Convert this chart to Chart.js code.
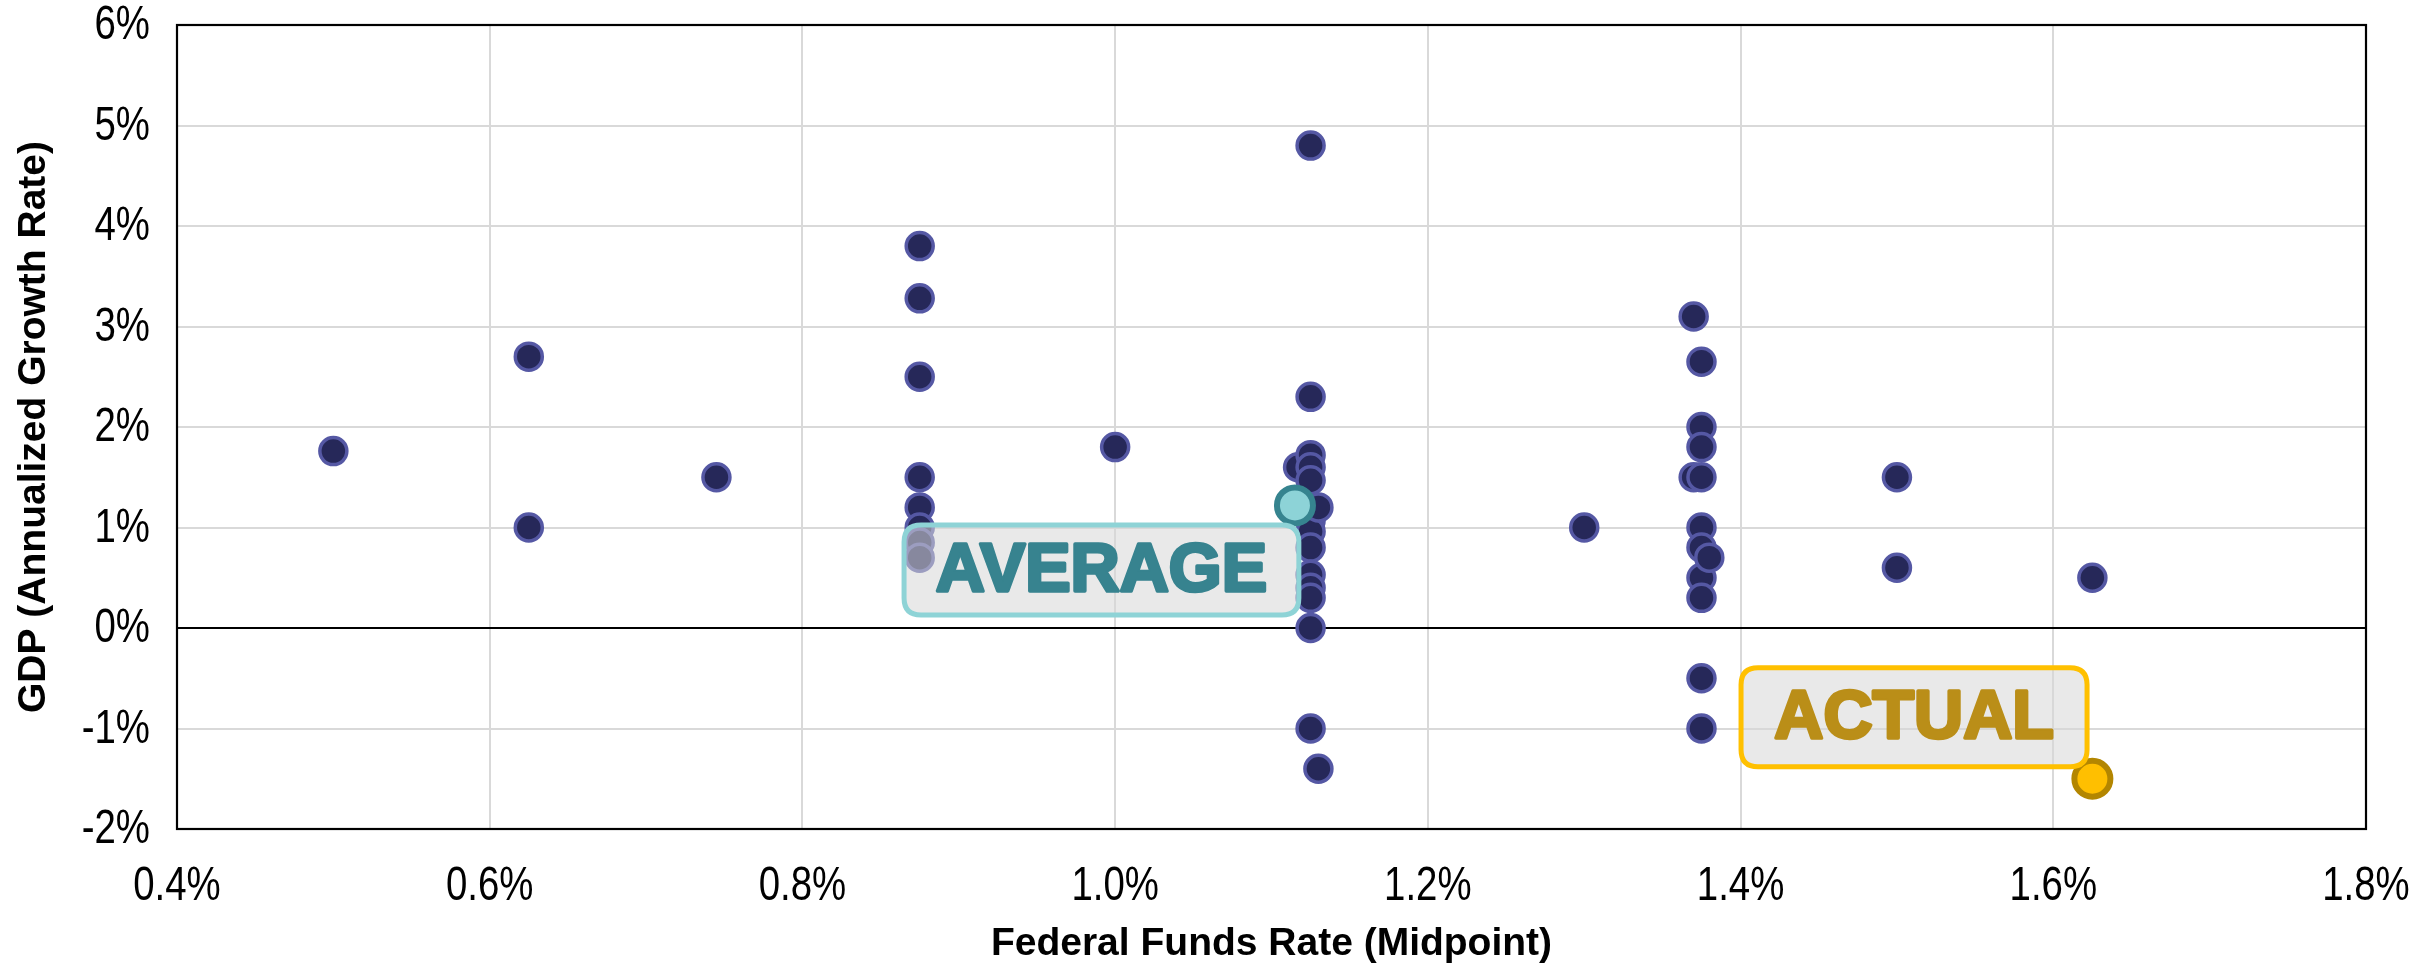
<!DOCTYPE html>
<html>
<head>
<meta charset="utf-8">
<title>GDP vs Federal Funds Rate</title>
<script src="https://cdn.jsdelivr.net/npm/chart.js@4"></script>
<style>
    body { margin: 0; background: #ffffff; }
    canvas { display: block; }
</style>
</head>
<body>
<canvas id="scatter" width="2420" height="980"></canvas>
<script>
// Data
const fedFundsRate = [
    0.5, 0.625, 0.625, 0.745,
    0.875, 0.875, 0.875, 0.875, 0.875, 0.875, 0.875, 0.875,
    1.0, 1.117,
    1.125, 1.125, 1.125, 1.125, 1.125, 1.125, 1.125, 1.125, 1.125, 1.125, 1.125, 1.125, 1.125,
    1.13, 1.13,
    1.3, 1.37, 1.37,
    1.375, 1.375, 1.375, 1.375, 1.375, 1.375, 1.375, 1.375, 1.375, 1.375,
    1.38, 1.5, 1.5, 1.625
];
const gdpGrowth = [
    1.76, 2.7, 1.0, 1.5,
    3.8, 3.28, 2.5, 1.5, 1.2, 1.0, 0.85, 0.7,
    1.8, 1.6,
    4.8, 2.3, 1.72, 1.6, 1.47, 1.07, 0.96, 0.8, 0.53, 0.4, 0.3, 0.0, -1.0,
    1.2, -1.4,
    1.0, 3.1, 1.5,
    2.65, 2.0, 1.8, 1.5, 1.0, 0.8, 0.5, 0.3, -0.5, -1.0,
    0.7, 1.5, 0.6, 0.5
];
const averagePoint = [1.115, 1.22];
const actualPoint = [1.625, -1.5];

const xTicks = [0.4, 0.6, 0.8, 1.0, 1.2, 1.4, 1.6, 1.8];
const yTicks = [-2, -1, 0, 1, 2, 3, 4, 5, 6];

const xTitle = "Federal Funds Rate (Midpoint)";
const yTitle = "GDP (Annualized Growth Rate)";

// Label boxes, in data units: [text, xFrom, xTo, yTop, yBottom]
const averageLabel = ["AVERAGE", 0.865, 1.1175, 1.025, 0.13];
const actualLabel = ["ACTUAL", 1.4003, 1.6216, -0.395, -1.38];

// Fonts
const tickFontString = "48px 'Liberation Sans', Arial, sans-serif";
const tickSqueeze = 0.8;
const titleFont = {family: "'Liberation Sans', Arial, sans-serif", size: 39, weight: "bold", lineHeight: 1.2};

// Element
let chartElement = document.querySelector("#scatter");

const observations = fedFundsRate.map((x, i) => ({x: x, y: gdpGrowth[i]}));

// Plugins
const framePlugin = {
    id: "frame",
    beforeDatasetsDraw: (chart) => {
        let {ctx, chartArea} = chart;
        ctx.save();
        ctx.strokeStyle = "#000000";
        ctx.lineWidth = 2.2;
        ctx.strokeRect(chartArea.left, chartArea.top, chartArea.right - chartArea.left, chartArea.bottom - chartArea.top);
        ctx.restore();
    }
};

// narrow tick labels: the picture uses a condensed face, squeeze the regular one
const drawNarrowText = (ctx, text, x, y, align) => {
    ctx.save();
    ctx.translate(x, y);
    ctx.scale(tickSqueeze, 1);
    ctx.textAlign = align;
    ctx.fillText(text, 0, 0);
    ctx.restore();
};

const tickPlugin = {
    id: "narrowTicks",
    afterDraw: (chart) => {
        let {ctx, chartArea} = chart;
        let xs = chart.scales.x;
        let ys = chart.scales.y;
        ctx.save();
        ctx.font = tickFontString;
        ctx.fillStyle = "#000000";
        ctx.textBaseline = "middle";
        xs.ticks.forEach(t => {
            drawNarrowText(ctx, t.value.toFixed(1) + "%", xs.getPixelForValue(t.value), chartArea.bottom + 58, "center");
        });
        ys.ticks.forEach(t => {
            drawNarrowText(ctx, t.value + "%", chartArea.left - 27, ys.getPixelForValue(t.value) + 1, "right");
        });
        ctx.restore();
    }
};

const roundRect = (ctx, x, y, w, h, r) => {
    ctx.beginPath();
    ctx.moveTo(x + r, y);
    ctx.lineTo(x + w - r, y);
    ctx.quadraticCurveTo(x + w, y, x + w, y + r);
    ctx.lineTo(x + w, y + h - r);
    ctx.quadraticCurveTo(x + w, y + h, x + w - r, y + h);
    ctx.lineTo(x + r, y + h);
    ctx.quadraticCurveTo(x, y + h, x, y + h - r);
    ctx.lineTo(x, y + r);
    ctx.quadraticCurveTo(x, y, x + r, y);
    ctx.closePath();
};

const drawLabel = (chart, label, borderColor, textColor) => {
    let {ctx} = chart;
    let xs = chart.scales.x;
    let ys = chart.scales.y;
    let left = xs.getPixelForValue(label[1]);
    let right = xs.getPixelForValue(label[2]);
    let top = ys.getPixelForValue(label[3]);
    let bottom = ys.getPixelForValue(label[4]);
    ctx.save();
    roundRect(ctx, left, top, right - left, bottom - top, 17);
    ctx.fillStyle = "rgba(215,215,215,0.55)";
    ctx.fill();
    ctx.lineWidth = 5;
    ctx.strokeStyle = borderColor;
    ctx.stroke();
    ctx.font = "bold 68px 'Liberation Sans', Arial, sans-serif";
    ctx.textAlign = "center";
    ctx.textBaseline = "middle";
    ctx.fillStyle = textColor;
    ctx.strokeStyle = textColor;
    ctx.lineWidth = 3.5;
    ctx.lineJoin = "round";
    let cx = (left + right) / 2;
    let cy = (top + bottom) / 2 + 2;
    ctx.strokeText(label[0], cx, cy);
    ctx.fillText(label[0], cx, cy);
    ctx.restore();
};

const labelPlugin = {
    id: "labels",
    afterDatasetsDraw: (chart) => {
        drawLabel(chart, averageLabel, "#8ED3D6", "#37838F");
        drawLabel(chart, actualLabel, "#FFC000", "#BA8E18");
    }
};

// Chart
new Chart(chartElement, {
    type: "scatter",
    data: {
        datasets: [
            {
                label: "Average",
                data: [{x: averagePoint[0], y: averagePoint[1]}],
                backgroundColor: "#8DD3D7",
                borderColor: "#36848F",
                borderWidth: 6,
                pointRadius: 18,
                order: 0
            },
            {
                label: "Actual",
                data: [{x: actualPoint[0], y: actualPoint[1]}],
                backgroundColor: "#FFBF00",
                borderColor: "#B38600",
                borderWidth: 6,
                pointRadius: 18,
                order: 0
            },
            {
                label: "Observed",
                data: observations,
                backgroundColor: "#262859",
                borderColor: "#5558A4",
                borderWidth: 3.5,
                pointRadius: 13.5,
                order: 1
            }
        ]
    },
    options: {
        responsive: false,
        animation: false,
        devicePixelRatio: 1,
        layout: {
            padding: {top: 25, right: 54, left: 0, bottom: 0}
        },
        plugins: {
            legend: {display: false},
            tooltip: {enabled: false}
        },
        scales: {
            x: {
                type: "linear",
                min: xTicks[0],
                max: xTicks[xTicks.length - 1],
                afterBuildTicks: (scale) => {
                    scale.ticks = xTicks.map(v => ({value: v}));
                },
                afterFit: (scale) => {
                    scale.height = 151;
                },
                ticks: {display: false},
                grid: {
                    color: "#D9D9D9",
                    lineWidth: 2,
                    drawTicks: false
                },
                border: {display: false},
                title: {
                    display: true,
                    text: xTitle,
                    color: "#000000",
                    font: titleFont,
                    padding: {top: 0, bottom: 12}
                }
            },
            y: {
                type: "linear",
                min: yTicks[0],
                max: yTicks[yTicks.length - 1],
                afterBuildTicks: (scale) => {
                    scale.ticks = yTicks.map(v => ({value: v}));
                },
                afterFit: (scale) => {
                    scale.width = 177;
                },
                ticks: {display: false},
                grid: {
                    color: (c) => c.tick && c.tick.value === 0 ? "#000000" : "#D9D9D9",
                    lineWidth: 2,
                    drawTicks: false
                },
                border: {display: false},
                title: {
                    display: true,
                    text: yTitle,
                    color: "#000000",
                    font: titleFont,
                    padding: {top: 11, bottom: 0}
                }
            }
        }
    },
    plugins: [framePlugin, labelPlugin, tickPlugin]
});
</script>
</body>
</html>
